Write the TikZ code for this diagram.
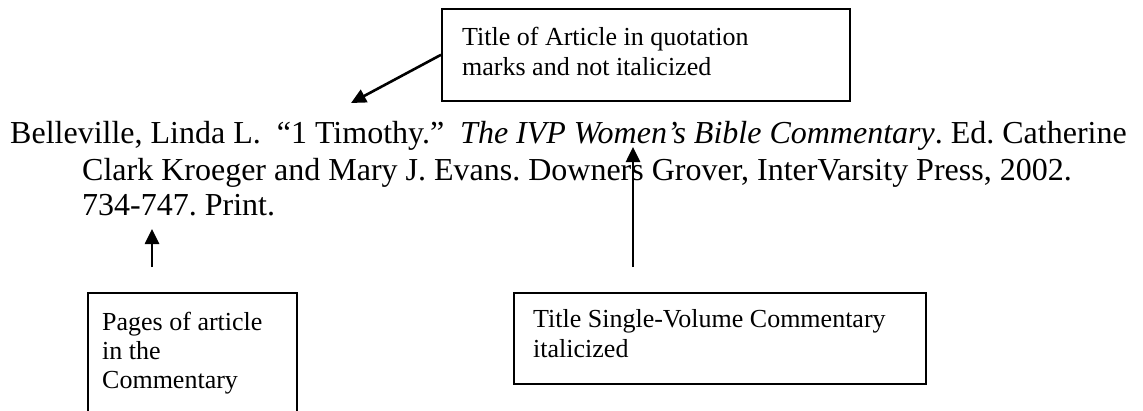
\documentclass[tikz,border=0pt]{standalone}
\usepackage{fontspec}
\setmainfont{Liberation Serif}
\usetikzlibrary{arrows.meta}
\begin{document}
\begin{tikzpicture}[x=1pt,y=-1pt,
  maintext/.style={anchor=base west, inner sep=0pt, font=\fontsize{32pt}{36pt}\selectfont\frenchspacing},
  boxtext/.style={anchor=base west, inner sep=0pt, font=\fontsize{26pt}{30pt}\selectfont},
  calloutbox/.style={draw=black, line width=1.6pt, anchor=north west, inner sep=0pt},
  pointer/.style={line width=2.6pt, -{Triangle[length=15pt,width=14pt]}}]
\path[use as bounding box] (0,0) rectangle (1143,410);
\fill[white] (0,0) rectangle (1143,410);
\clip (0,0) rectangle (1143,410);

% citation text
\node[maintext] (line1) at (10,143) {Belleville, Linda L.\ \ “1 Timothy.”\ \ \textit{The IVP Women’s Bible Commentary}. Ed. Catherine};
\node[maintext] (line2) at (82,180) {Clark Kroeger and Mary J. Evans. Downers Grover, InterVarsity Press, 2002.};
\node[maintext] (line3) at (82,215) {734-747. Print.};

% callout boxes
\node[calloutbox, minimum width=408pt, minimum height=92pt] (box1) at (441,8) {};
\node[boxtext] (t1a) at (462,45) {Title of Article in quotation};
\node[boxtext] (t1b) at (462,75) {marks and not italicized};

\node[calloutbox, minimum width=209pt, minimum height=130pt] (box2) at (87,292) {};
\node[boxtext] (t2a) at (102,330) {Pages of article};
\node[boxtext] (t2b) at (102,359) {in the};
\node[boxtext] (t2c) at (102,388) {Commentary};

\node[calloutbox, minimum width=412pt, minimum height=91pt] (box3) at (513,292) {};
\node[boxtext] (t3a) at (533,327) {Title Single-Volume Commentary};
\node[boxtext] (t3b) at (533,357) {italicized};

% arrows
\coordinate (tip1) at (351,103);
\coordinate (tail2) at (633,267);
\coordinate (tip2) at (633,147);
\coordinate (tail3) at (152,267);
\coordinate (tip3) at (152,229);
\draw[pointer] (box1.west) -- (tip1);
\draw[pointer] (tail2) -- (tip2);
\draw[pointer] (tail3) -- (tip3);
\end{tikzpicture}
\end{document}
